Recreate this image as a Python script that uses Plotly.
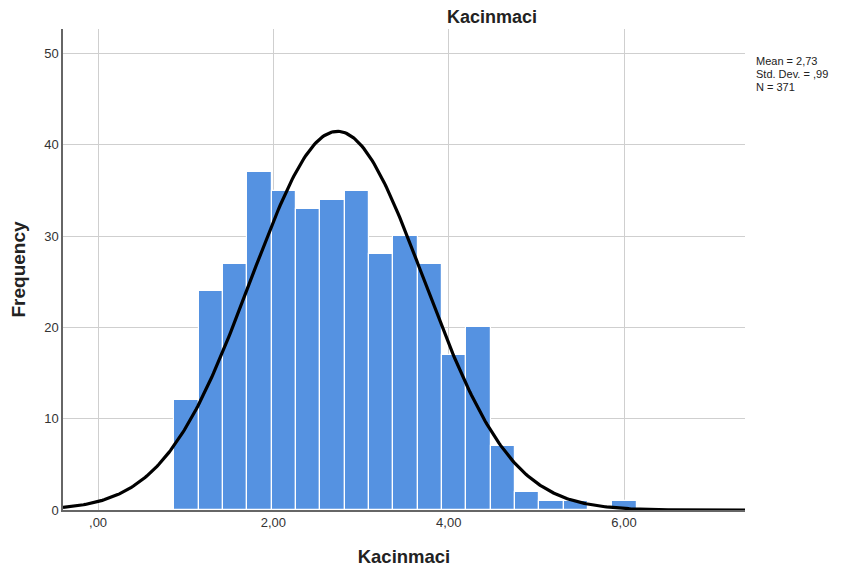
import numpy as np
import plotly.graph_objects as go

# Data
counts = [12, 24, 27, 37, 35, 33, 34, 35, 28, 30, 27, 17, 20, 7, 2, 1, 1, 0, 1]
bin_start = 0.87
bin_width = 0.2775
mean_val = 2.73
sd_val = 0.99
n_val = 371

x_tickvals = [0, 2, 4, 6]
x_ticktext = [",00", "2,00", "4,00", "6,00"]
y_tickvals = [0, 10, 20, 30, 40, 50]
y_ticktext = ["0", "10", "20", "30", "40", "50"]

stat_lines = [
    "Mean = " + f"{mean_val:.2f}".replace(".", ","),
    "Std. Dev. = " + f"{sd_val:.2f}".lstrip("0").replace(".", ","),
    f"N = {n_val}",
]

centers = [bin_start + bin_width * (i + 0.5) for i in range(len(counts))]

# Normal curve implied by the stated statistics (as SPSS draws it)
xc = np.linspace(-0.4, 7.38, 400)
yc = n_val * bin_width / (sd_val * np.sqrt(2 * np.pi)) * np.exp(-0.5 * ((xc - mean_val) / sd_val) ** 2)

font = "Liberation Sans, Arial, sans-serif"

# page body has an 8px default margin; compensate
W, H = 834, 567
off = 8
pl, pr, pt, pb = 63, 745, 29, 510  # plot area in page pixels

fig = go.Figure()
fig.add_trace(go.Bar(
    x=centers, y=counts, width=bin_width,
    marker=dict(color="#5592E1", line=dict(color="white", width=1.2)),
    hoverinfo="x+y", showlegend=False,
))
fig.add_trace(go.Scatter(
    x=xc, y=yc, mode="lines",
    line=dict(color="black", width=3.2),
    showlegend=False, hoverinfo="skip",
))

annots = []
for i, t in enumerate(stat_lines):
    annots.append(dict(
        xref="paper", yref="paper",
        x=(754 - pl) / (pr - pl), y=(pb - (61 + 13 * i)) / (pb - pt),
        xanchor="left", yanchor="middle", align="left", showarrow=False,
        text=t, font=dict(family=font, size=11, color="#222"),
    ))

fig.update_layout(
    width=W, height=H,
    margin=dict(l=pl - off, r=842 - pr, t=pt - off, b=575 - pb, autoexpand=False),
    paper_bgcolor="white", plot_bgcolor="white",
    bargap=0,
    title=dict(text="<b>Kacinmaci</b>", x=(492 - off) / W, xanchor="center",
               y=1 - 2 / H, yanchor="top", pad=dict(t=0, b=0),
               font=dict(family=font, size=18, color="#222")),
    font=dict(family=font, color="#333"),
    xaxis=dict(
        range=[-0.4, 7.38], tickvals=x_tickvals, ticktext=x_ticktext,
        showgrid=True, gridcolor="#CFCFCF", gridwidth=1,
        zeroline=False, showline=True, linecolor="#666", linewidth=1.5,
        ticks="", tickfont=dict(size=13, color="#333"),
        title=dict(text="<b>Kacinmaci</b>", font=dict(size=18.5, color="#222"), standoff=21),
    ),
    yaxis=dict(
        range=[0, 52.7], tickvals=y_tickvals, ticktext=y_ticktext,
        showgrid=True, gridcolor="#CFCFCF", gridwidth=1,
        zeroline=False, showline=True, linecolor="#666", linewidth=1.5,
        ticks="", tickfont=dict(size=13, color="#333"),
        title=dict(text="<b>Frequency</b>", font=dict(size=19, color="#222"), standoff=14),
    ),
    annotations=annots,
)

fig.write_html("out.html")
